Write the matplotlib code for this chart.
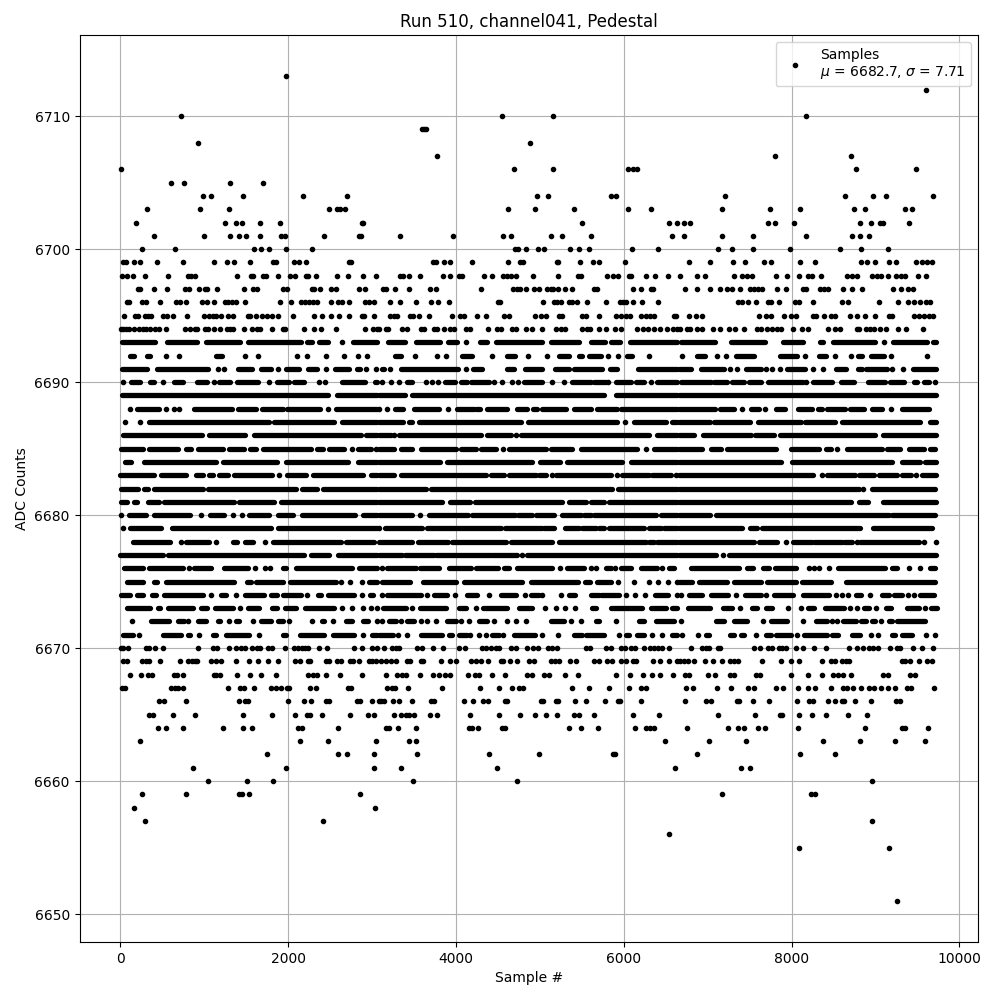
import matplotlib
matplotlib.use("Agg")
import matplotlib.pyplot as plt

TITLE = "Run 510, channel041, Pedestal"
LEGEND = "Samples\n$\\mu$ = 6682.7, $\\sigma$ = 7.71"

# Isolated samples: ADC level -> sample numbers
tail_samples = {
6713:[1969],
6712:[9605],
6710:[719,4554,5161,8176],
6709:[3601,3625,3649],
6708:[921,4887],
6707:[3780,7806,8711],
6706:[4,4697,5161,6055,6114,6162,8771,9486],
6705:[600,755,1302,1696],
6704:[981,1076,1457,2172,2696,4971,5102,5852,5912,7211,8640,8973,9128,9688],
6703:[314,945,1290,2482,2577,2624,2672,4621,4947,5411,6055,6329,7175,7747,8104,8747,8878,9355,9438],
6702:[183,1243,1374,1445,1660,1898,2875,2898,5507,6543,6638,6723,6794,7723,7806,8033,8819,8950,9057,9092,9402],
6701:[397,993,1302,1410,1493,1660,1910,1957,2422,2847,2871,3339,3970,4566,4661,5137,5269,5614,6579,6723,7175,7544,8176,8723,8819,8926],
6700:[254,647,1588,1672,1767,1969,2279,4709,4744,4840,4983,5054,5364,5471,5590,6102,6412,7127,7294,7544,7985,8580,8831,9152],
6699:[28,68,159,231,433,743,1112,1267,1350,1541,1815,1855,2065,2124,2208,2720,2748,3732,3768,3863,3935,4197,4625,4768,4804,5201,5221,5483,5638,5709,6019,6782,7032,7306,7449,7675,7759,8104,8283,8831,8902,8997,9164,9247,9486,9557,9617,9676],
6698:[16,76,147,290,564,802,842,886,1386,1553,1584,1696,1735,1874,2017,2077,2208,2231,2327,2577,2708,2887,3053,3331,3375,3446,3577,3851,3935,4042,4078,4340,4435,4566,4613,4661,4721,4923,5221,5459,5487,5804,5876,5935,6067,6090,6269,6376,6531,6675,6877,6973,7318,7413,7473,7524,7818,7949,8092,8199,8247,8354,8664,8723,8783,8961,9021,9069,9152,9247,9307,9355,9510,9605],
6697:[207,235,397,556,767,814,933,1005,1029,1148,1469,1576,1624,1934,1981,2279,2311,2374,2505,2565,2839,2922,3125,3172,3268,3446,3696,3768,4304,4685,4733,4768,4840,4935,4995,5090,5137,5161,5221,5304,5387,5650,5685,6114,6209,6329,6352,6734,6877,7032,7151,7235,7294,7381,7509,7556,7604,7651,7830,7937,8140,8176,8342,8390,8437,8616,8723,8842,9212,9307,9390,9450],
6696:[76,100,254,306,469,659,711,778,969,1029,1112,1243,1279,1326,1374,1485,1898,2029,2148,2196,2243,2291,2339,2505,2589,2648,2720,2922,2958,3029,3220,3339,3530,3708,3792,3923,4506,4530,5042,5173,5209,5257,5352,5387,5447,5566,5792,5959,5995,6031,6114,6221,6412,7366,7413,7485,7580,7723,7759,7854,8044,8092,8259,8604,8676,9045,9271,9390,9462,9533,9605,9652],
6695:[44,175,207,290,326,366,505,552,624,790,993,1060,1100,1136,1195,1279,1338,1517,1541,1616,1684,1743,1803,1874,2053,2303,2398,2505,2601,2720,2875,2910,3029,3220,3256,3303,3458,3494,3565,3684,3958,4054,4101,4256,4363,4578,4637,4947,5018,5078,5233,5269,5507,5554,5709,5912,5971,6031,6078,6209,6269,6317,6364,6602,6626,6782,6857,6937,7616,7699,7759,7913,7997,8056,8259,8294,8390,8473,8521,8699,8783,8878,8997,9164,9200,9462,9521,9581,9640,9688],
6694:[4,36,68,107,167,219,266,306,354,417,465,544,767,826,886,909,1005,1040,1112,1183,1267,1302,1338,1469,1564,1624,1660,1803,1934,1957,2184,2303,2386,2565,2922,3017,3065,3085,3172,3196,3363,3411,3589,3625,3744,3780,3863,3935,3982,4125,4173,4387,4494,4542,4673,4721,4840,4911,5030,5197,5257,5304,5507,5566,5602,5709,5792,5900,5971,6162,6233,6293,6364,6435,6519,6590,6638,6675,6758,6794,6877,6937,7068,7151,7259,7330,7437,7592,7640,7711,7770,7830,7878,8021,8128,8199,8437,8521,8580,8783,8807,8890,8938,8985,9057,9128,9271,9366,9569],
6670:[4,36,92,302,338,409,505,921,1100,1148,1290,1374,1433,1481,1564,1624,1660,1755,1803,1957,2065,2112,2160,2196,2231,2362,2458,2791,2879,2994,3065,3145,3236,3284,3323,3541,3601,3732,3851,4042,4113,4316,4355,4415,4475,4514,4661,4721,4852,4923,4983,5102,5149,5209,5554,5594,5785,5844,5971,6015,6090,6138,6245,6317,6364,6412,6459,6543,6806,6937,6985,7020,7127,7151,7556,7628,7723,7770,7854,7890,7937,8056,8140,8271,8414,8688,8783,8854,8926,8973,9033,9176,9259,9295,9450,9557,9688],
6669:[28,76,254,302,338,469,707,802,850,886,909,1076,1136,1195,1374,1529,1636,1755,1874,2077,2136,2231,2255,2446,2493,2577,2636,2732,2779,2839,2958,3005,3053,3101,3172,3224,3284,3411,3458,3589,3613,3827,3935,4006,4185,4236,4296,4387,4534,4566,4641,4733,4875,4935,5137,5185,5233,5364,5435,5650,5709,5804,5864,5971,6031,6110,6150,6352,6435,6543,6638,6675,6723,6770,6842,6973,7068,7175,7270,7318,7366,7648,7878,7997,8092,8366,8473,8521,8604,8652,8688,9319,9355,9414,9521,9617,9676],
6668:[111,242,326,373,636,671,743,1112,1136,1183,1386,1541,1672,1850,2231,2291,2350,2446,2613,2875,3172,3303,3363,3399,3577,3732,3804,3875,3935,4149,4232,4280,4435,4590,4852,4911,5054,5114,5304,5459,5912,6078,6233,6340,6435,6590,6734,6782,7008,7092,7270,7318,7580,7628,7997,8199,8366,8497,8557,8616,8711,9092,9152,9414,9474],
6667:[16,60,600,647,683,743,1279,1422,1469,1588,1791,1850,1910,1981,2005,2255,2327,2708,2744,3184,3236,3272,3434,3839,4292,4518,4673,4756,4804,5387,5590,5828,6067,6209,6269,6746,6830,7115,7282,7485,7556,7818,7902,8080,8199,8283,8473,8616,8664,8735,8831,8926,8985,9069,9152,9235,9378,9426,9700],
6666:[457,516,778,1410,1481,1517,1993,2184,2267,2446,2493,2815,2851,3005,3085,3101,3137,3244,3327,3482,3708,3744,4101,4209,4328,4387,4590,4613,5018,5042,5197,5221,5423,5554,5781,5935,5959,6209,6734,6985,7044,7354,7378,7544,7735,8068,8211,8259,8437,8521,8604,8628,8759,8950,9247,9295],
6665:[338,385,624,886,1457,1803,2077,2220,2255,2398,2732,2946,3029,3256,3351,3399,3446,3506,3696,3780,4173,4518,4768,4947,5078,5209,5411,5471,5650,6114,6424,7127,7568,7866,7890,8092,8247,8414,8676,8902],
6664:[445,540,743,1219,1457,1564,2112,2160,2589,3172,3208,3315,3530,4161,4197,4268,4554,4590,5352,5495,5697,6138,6269,6317,6364,6758,7246,7366,7437,7604,7687,8080,8878,9319,9355,9628],
6663:[231,2136,2470,3053,3446,3530,6495,7020,7461,8378,8819,9235,9593],
6662:[1743,2589,2696,3029,3541,4399,4995,5876,5900,6877,8104,8521],
6661:[862,1969,3029,3351,4494,6614,7401,7509],
6660:[1040,1505,1814,3494,4733,8961],
6659:[254,778,1410,1445,1529,2851,7175,8235,8283],
6658:[159,3041],
6657:[290,2410,8961],
6656:[6543],
6655:[8092,9164],
6651:[9259],
}

# Central band: the points overlap into stretches, so each row is read as
# (first, last) stretches of sample numbers, plus single visible points.
core_runs = {
6693:[(16,417),(552,913),(1017,1430),(1525,2152),(2220,2283),(2366,2481),2644,(2775,3057),(3192,3395),(3530,3812),(3907,4010),4125,(4284,4367),(4482,5030),(5137,5471),(5614,5777),(5852,5955),(6070,6630),(6687,7088),(7282,7683),(7898,8132),(8334,8378),(8493,8993),9108,(9208,9609),(9684,9728)],
6692:[(115,159),(314,358),544,695,(1140,1211),1485,1636,2100,2220,2446,2660,2831,2938,(3272,3343),3518,3780,3887,(4070,4197),4435,(4613,4700),4864,5082,(5229,5348),(5467,5507),(5586,5725),5816,5935,(6043,6102),6305,6699,(6877,6969),7108,7223,(7342,7552),(7858,8068),8164,(8326,8406),8521,8711,(8791,8843),(8942,9108),9188,9617],
6691:[(16,318),(433,1040),1167,1231,(1398,1568),(1672,1795),1878,(1969,2124),(2239,2350),2446,(2557,2720),(2815,2859),2934,3053,(3113,3137),3212,(3351,4030),4125,(4209,4316),(4613,4693),(4820,5030),(5177,5348),(5407,5737),(5832,5916),(6170,6630),(6659,6798),(6925,7195),7262,7354,(7453,7632),7699,7770,7858,(7949,8160),8259,8374,(8525,8644),(8791,8843),(8882,9140),9200,9327,(9450,9728)],
6690:[28,(127,238),(354,405),505,(643,743),(909,1032),1112,(1179,1306),(1390,1636),1767,(1862,2013),(2073,2192),2362,2434,(2640,2914),(3033,3057),3113,3232,3327,(3422,3474),3649,3720,3792,(3867,3990),(4058,4137),(4177,4395),4455,4546,4673,4744,(4812,5030),5142,5292,(5387,5606),(5646,5785),5816,(5912,6082),(6150,6241),6321,(6400,6630),(6687,7036),(7076,7235),(7294,7433),(7493,7632),(7723,8136),8176,(8255,8485),(8584,8743),(8914,9120),(9168,9339),(9458,9498),(9585,9637),9712],
6689:[(16,2481),(2577,3057),(3085,3395),(3482,5770),(5910,6630),(6659,9720)],
6688:[115,(195,457),544,636,695,(882,1330),(1398,1616),(1688,1942),(1981,2378),2470,(2569,3057),3085,3184,(3276,3371),(3502,3800),3907,(4010,4217),(4244,4288),(4375,4613),(4733,4852),(4919,4971),(5030,5308),(5407,5606),(5685,5924),(5963,6630),(6659,7084),(7143,7314),7409,(7512,7612),7679,(7818,7921),(8080,8239),(8318,8366),(8425,8632),(8703,8862),(8954,9081),9184,(9311,9637)],
6687:[60,235,(346,1767),(1834,2549),(2648,3057),(3085,3371),(3442,3482),(3561,4772),(4864,5924),6015,(6122,6499),(6579,6630),(6659,7024),(7076,7500),(7604,8108),(8160,8517),(8604,9537),(9656,9728)],
6686:[(36,969),(1060,1489),(1596,2867),(2926,3057),(3085,3224),3264,(3323,4296),(4375,4653),4713,(4772,6301),(6400,6630),(6659,6838),(6945,7513),(7564,7790),(7862,9001),(9089,9728)],
6685:[(8,266),(346,683),(782,842),(921,1219),(1298,1477),(1549,1616),(1696,2271),(2350,2410),(2490,2668),2756,(2827,2986),3045,(3085,3264),(3351,3482),(3589,3998),(4058,4236),(4296,4482),4562,(4633,5070),(5137,5387),(5495,6162),6261,(6360,6630),(6659,6937),(7036,7155),(7235,7810),(7989,8326),(8406,8465),8545,(8664,9073),(9140,9299),(9398,9577),(9656,9716)],
6684:[(56,127),(278,1140),(1219,1866),(1973,2708),(2827,3057),(3085,3811),(3899,4903),(4998,5240),(5328,5983),(6082,6630),(6659,7880),(8009,9200),(9319,9537),(9597,9728)],
6683:[(0,405),(485,782),(902,989),(1060,1100),(1171,1279),(1358,1807),1894,(1981,2212),(2291,2887),(2986,3057),(3085,3264),(3343,4355),(4415,4574),(4633,4951),(4991,5070),5142,(5189,5844),5924,(5983,6301),(6340,6559),6618,(6659,8255),8366,(8425,8759),(8803,8982),(9041,9259),(9311,9430),9486,(9557,9720)],
6682:[(8,207),(286,326),(405,981),(1040,2092),(2164,2350),(2410,3057),(3085,3644),(3700,5864),(5934,6630),(6659,8803),8851,(8954,9716)],
6681:[(8,76),(159,199),(334,457),(524,1358),(1418,1835),(1914,3057),(3085,3839),(3926,4167),(4224,5259),(5348,5554),(5606,5765),(5824,6630),(6659,8714),(8803,8914),(9089,9720)],
6680:[5,(99,306),(405,834),957,(1068,1231),1338,1445,(1537,1775),(1874,2053),(2160,2799),(2898,3057),(3085,3474),3569,(3680,4149),(4196,4705),(4744,4911),(4959,5169),(5269,5487),(5526,5606),(5646,6380),(6440,6630),(6659,7024),(7100,9160),(9200,9715)],
6679:[28,(115,485),(612,1795),(1874,3057),3085,(3156,3601),(3652,3760),(3780,4534),(4586,5030),(5050,5170),(5300,5467),(5500,5666),(5706,5765),(5824,6241),(6300,6440),(6480,6630),(6659,7413),(7500,7585),(7643,8816),(8971,9674)],
6678:[(147,592),723,(782,1060),1140,(1338,1390),(1485,1576),1727,(1815,2628),(2688,3025),(3085,3474),(3542,3911),(3958,4593),(4653,5149),(5229,6261),(6301,6360),(6400,6630),(6659,7547),(7612,7830),7929,(8017,8239),(8266,8604),(8624,8723),8775,(8822,9520),9577,9723],
6677:[(0,505),(564,2192),(2271,2490),(2589,3057),(3085,3363),(3395,3740),(3760,4415),(4435,4733),4784,(4852,6630),(6659,7096),7187,(7254,9720)],
6676:[(48,266),(346,743),814,(881,1080),(1239,1517),1608,1727,1783,(1934,1973),(2093,2767),(2847,3057),3117,(3184,3522),(3569,3800),(3919,4177),(4244,4506),(4574,4633),(4733,5141),5237,(5328,5526),5606,5674,(5785,5844),5892,(5963,6082),(6201,6400),6460,(6539,6599),(6798,7373),(7473,7540),(7659,7731),(7802,8049),8203,8267,8330,8445,(8557,9120),(9200,9259),9406,9537,(9656,9716)],
6675:[(76,266),(405,437),(544,1358),(1505,1557),(1616,1934),(2021,2569),2636,2736,2879,(2958,3057),(3113,3454),(3609,4006),(4097,4784),(4891,5459),(5534,5594),(5685,5844),5935,6122,6301,6412,6531,6630,(6659,6818),(6897,7235),(7314,7632),(7711,8049),(8128,8465),(8644,9716)],
6674:[(8,120),(195,266),(373,425),(516,989),1080,(1199,1259),1378,(1489,1715),(1795,1866),(1942,2152),2220,(2355,2386),(2470,2787),2879,(2978,3013),3113,(3184,3581),3661,(3740,3899),3990,(4137,4256),4395,(4534,4713),4820,(4891,4991),5030,5249,(5348,5419),(5614,5705),(5725,5943),6023,6134,6249,(6372,6531),6630,6687,(6778,6937),(7044,7247),7334,(7445,7632),7699,(7790,8017),(8140,8445),8533,8604,8676,(8771,8834),8938,(9081,9160),(9220,9311),9390,9458,(9537,9696)],
6673:[(76,350),(453,477),(564,862),(961,1032),(1128,1338),1426,(1517,1656),(1803,1866),(1961,2092),(2200,2541),2648,2767,2887,2986,3057,(3125,3403),3482,(3569,3880),(4038,4125),4244,(4324,4606),(4752,4903),5062,5197,5300,5419,(5626,5666),(5844,6221),(6320,6499),(6579,6630),(6766,7024),(7187,7286),7385,(7532,7584),(7699,7762),7961,8108,(8199,8267),(8398,8624),8692,8783,(8862,8922),9009,(9128,9180),(9378,9517),9597,(9668,9736)],
6672:[135,(366,584),(683,762),802,(921,1021),(1160,1187),1291,(1378,1418),1576,(1676,1795),(1874,1934),2013,2279,(2398,2430),2529,(2688,2767),(2887,2946),3057,3113,(3204,3284),3343,(3422,3502),3581,3661,3760,(3899,3998),4066,4157,(4276,4375),4455,4613,4713,4832,(5130,5288),5368,5487,(5666,5705),5904,(6181,6241),(6388,6599),6680,(7096,7195),(7314,7473),7659,(7751,7949),8136,(8287,8425),8477,8545,(8616,8763),(8834,8882),(8954,9001),9069,(9160,9200),(9259,9597)],
6671:[(36,147),219,(505,723),(810,830),933,(1100,1140),(1259,1537),1656,(1934,1973),(2144,2430),(2529,2787),2887,(2998,3057),(3085,3244),3315,3422,(3581,3839),(3919,3958),(4038,4137),4165,4276,4363,(4435,4514),4562,(4693,4943),5030,5221,(5407,5507),(5546,5765),5943,(6023,6062),(6162,6241),6333,6460,(6579,6630),6699,6889,(6977,7016),(7266,7314),(7393,7433),7572,(7699,7751),(7810,7989),8068,(8148,8425),(8485,8557),(8723,8822),8942,9033,(9200,9239),(9319,9438),9605,9716],
}

point_x, point_y = [], []
run_y, run_first, run_last = [], [], []
for level, samples in tail_samples.items():
    point_x += samples
    point_y += [level] * len(samples)
for level, entries in core_runs.items():
    for entry in entries:
        if isinstance(entry, tuple):
            run_y.append(level)
            run_first.append(entry[0])
            run_last.append(entry[1])
        else:
            point_x.append(entry)
            point_y.append(level)

fig, ax = plt.subplots(figsize=(10, 10), dpi=100)
ax.plot(point_x, point_y, "k.", label=LEGEND)
ax.hlines(run_y, run_first, run_last, colors="k", linewidth=3.8, capstyle="round")
ax.set_title(TITLE)
ax.set_xlabel("Sample #")
ax.set_ylabel("ADC Counts")
ax.grid(True)
ax.legend(loc="upper right")
fig.subplots_adjust(left=0.0795, right=0.978, top=0.965, bottom=0.058)
fig.savefig("out.png", dpi=100)
